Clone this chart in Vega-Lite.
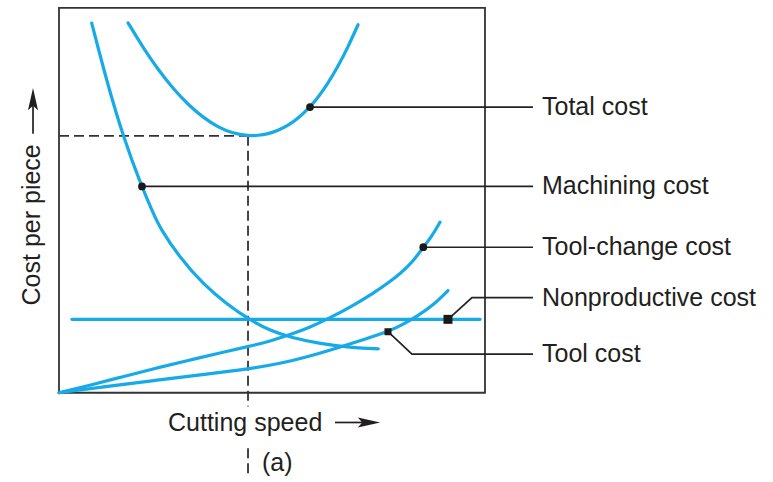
{
  "$schema": "https://vega.github.io/schema/vega-lite/v6.json",
  "width": 773,
  "height": 482,
  "autosize": {"type": "fit", "contains": "padding"},
  "padding": 0,
  "background": "white",
  "config": {"view": {"stroke": null}},
  "datasets": {
    "frame": [{"x": 0, "x2": 100, "y": 0, "y2": 100}],
    "curves": [
      {"s": "total", "x": 16.2, "y": 96.13},
      {"s": "total", "x": 19.72, "y": 89.72},
      {"s": "total", "x": 23.24, "y": 84.02},
      {"s": "total", "x": 26.76, "y": 79.07},
      {"s": "total", "x": 30.28, "y": 74.9},
      {"s": "total", "x": 33.8, "y": 71.55},
      {"s": "total", "x": 37.32, "y": 69.02},
      {"s": "total", "x": 40.85, "y": 67.37},
      {"s": "total", "x": 44.37, "y": 66.75},
      {"s": "total", "x": 46.71, "y": 66.86},
      {"s": "total", "x": 49.06, "y": 67.27},
      {"s": "total", "x": 51.41, "y": 68.12},
      {"s": "total", "x": 53.76, "y": 69.43},
      {"s": "total", "x": 56.1, "y": 71.29},
      {"s": "total", "x": 58.92, "y": 74.23},
      {"s": "total", "x": 60.8, "y": 76.73},
      {"s": "total", "x": 63.15, "y": 80.41},
      {"s": "total", "x": 65.49, "y": 84.77},
      {"s": "total", "x": 67.84, "y": 89.82},
      {"s": "total", "x": 70.19, "y": 95.62},
      {"s": "machining", "x": 7.68, "y": 96.06},
      {"s": "machining", "x": 11.2, "y": 81.01},
      {"s": "machining", "x": 15.09, "y": 66.42},
      {"s": "machining", "x": 19.41, "y": 53.53},
      {"s": "machining", "x": 22.14, "y": 46.65},
      {"s": "machining", "x": 23.71, "y": 42.78},
      {"s": "machining", "x": 28.4, "y": 35.05},
      {"s": "machining", "x": 33.87, "y": 28.17},
      {"s": "machining", "x": 39.37, "y": 23.02},
      {"s": "machining", "x": 44.44, "y": 19.15},
      {"s": "machining", "x": 49.53, "y": 16.16},
      {"s": "machining", "x": 54.23, "y": 14.43},
      {"s": "machining", "x": 61.27, "y": 12.71},
      {"s": "machining", "x": 69.08, "y": 11.68},
      {"s": "machining", "x": 74.95, "y": 11.42},
      {"s": "nonproductive", "x": 3.05, "y": 19.07},
      {"s": "nonproductive", "x": 98.83, "y": 19.07},
      {"s": "toolchange", "x": 0.0, "y": 0.0},
      {"s": "toolchange", "x": 6.81, "y": 1.8},
      {"s": "toolchange", "x": 14.79, "y": 4.12},
      {"s": "toolchange", "x": 22.54, "y": 6.31},
      {"s": "toolchange", "x": 30.28, "y": 8.38},
      {"s": "toolchange", "x": 38.26, "y": 10.44},
      {"s": "toolchange", "x": 44.84, "y": 12.11},
      {"s": "toolchange", "x": 49.53, "y": 13.4},
      {"s": "toolchange", "x": 54.23, "y": 15.08},
      {"s": "toolchange", "x": 58.92, "y": 17.01},
      {"s": "toolchange", "x": 62.91, "y": 19.07},
      {"s": "toolchange", "x": 68.31, "y": 22.16},
      {"s": "toolchange", "x": 73.71, "y": 25.77},
      {"s": "toolchange", "x": 77.7, "y": 28.87},
      {"s": "toolchange", "x": 80.05, "y": 30.93},
      {"s": "toolchange", "x": 82.86, "y": 33.76},
      {"s": "toolchange", "x": 85.52, "y": 37.81},
      {"s": "toolchange", "x": 87.56, "y": 40.72},
      {"s": "toolchange", "x": 89.44, "y": 44.33},
      {"s": "tool", "x": 0.0, "y": 0.0},
      {"s": "tool", "x": 10.8, "y": 1.55},
      {"s": "tool", "x": 22.54, "y": 3.22},
      {"s": "tool", "x": 34.27, "y": 4.77},
      {"s": "tool", "x": 45.31, "y": 6.31},
      {"s": "tool", "x": 51.88, "y": 7.6},
      {"s": "tool", "x": 58.22, "y": 9.28},
      {"s": "tool", "x": 65.96, "y": 11.86},
      {"s": "tool", "x": 71.83, "y": 13.92},
      {"s": "tool", "x": 77.23, "y": 15.85},
      {"s": "tool", "x": 81.22, "y": 18.04},
      {"s": "tool", "x": 84.04, "y": 19.85},
      {"s": "tool", "x": 87.79, "y": 22.68},
      {"s": "tool", "x": 91.31, "y": 26.55}
    ],
    "dashes": [
      {"s": "h", "o": 1, "x": 0, "y": 66.75},
      {"s": "h", "o": 2, "x": 44.37, "y": 66.75},
      {"s": "v1", "o": 1, "x": 44.37, "y": 66.75},
      {"s": "v1", "o": 2, "x": 44.37, "y": -3.61},
      {"s": "v2", "o": 1, "x": 44.37, "y": -14.43},
      {"s": "v2", "o": 2, "x": 44.37, "y": -22.16}
    ],
    "leaders": [
      {"s": "total", "o": 1, "x": 58.92, "y": 74.23},
      {"s": "total", "o": 2, "x": 111.27, "y": 74.23},
      {"s": "machining", "o": 1, "x": 19.48, "y": 53.61},
      {"s": "machining", "o": 2, "x": 111.27, "y": 53.61},
      {"s": "toolchange", "o": 1, "x": 85.52, "y": 37.81},
      {"s": "toolchange", "o": 2, "x": 111.27, "y": 37.81},
      {"s": "nonproductive", "o": 1, "x": 91.31, "y": 19.07},
      {"s": "nonproductive", "o": 2, "x": 96.95, "y": 24.74},
      {"s": "nonproductive", "o": 3, "x": 111.27, "y": 24.74},
      {"s": "tool", "o": 1, "x": 77.23, "y": 15.85},
      {"s": "tool", "o": 2, "x": 82.86, "y": 10.05},
      {"s": "tool", "o": 3, "x": 111.27, "y": 10.05}
    ],
    "arrows": [
      {"s": "x", "o": 1, "x": 64.79, "y": -7.73},
      {"s": "x", "o": 2, "x": 71.36, "y": -7.73},
      {"s": "y", "o": 1, "x": -6.1, "y": 67.27},
      {"s": "y", "o": 2, "x": -6.1, "y": 75.5}
    ],
    "heads": [
      {"dir": "right", "x": 72.77, "y": -7.73},
      {"dir": "up", "x": -6.1, "y": 76.29}
    ],
    "dots": [
      {"x": 58.92, "y": 74.23},
      {"x": 19.48, "y": 53.61},
      {"x": 85.52, "y": 37.81}
    ],
    "squares": [
      {"x": 91.31, "y": 19.07, "big": "yes"},
      {"x": 77.23, "y": 15.85, "big": "no"}
    ],
    "labels": [
      {"t": "Total cost", "x": 113.38, "y": 74.23},
      {"t": "Machining cost", "x": 113.38, "y": 53.61},
      {"t": "Tool-change cost", "x": 113.38, "y": 37.81},
      {"t": "Nonproductive cost", "x": 113.38, "y": 24.74},
      {"t": "Tool cost", "x": 113.38, "y": 10.05},
      {"t": "Cutting speed", "x": 25.59, "y": -7.99},
      {"t": "(a)", "x": 47.65, "y": -18.3}
    ],
    "ytitle": [{"t": "Cost per piece", "x": -6.34, "y": 22.68}]
  },
  "layer": [
    {
      "data": {"name": "frame"},
      "mark": {"type": "rect", "fillOpacity": 0, "stroke": "#333333", "strokeWidth": 1.8},
      "encoding": {
        "x": {"field": "x", "type": "quantitative", "scale": {"domain": [-13.85, 167.61], "nice": false, "zero": false}, "axis": null},
        "x2": {"field": "x2"},
        "y": {"field": "y", "type": "quantitative", "scale": {"domain": [-22.16, 102.06], "nice": false, "zero": false}, "axis": null},
        "y2": {"field": "y2"}
      }
    },
    {
      "data": {"name": "dashes"},
      "mark": {"type": "line", "color": "#333333", "strokeWidth": 1.8, "strokeDash": [10, 5]},
      "encoding": {
        "x": {"field": "x", "type": "quantitative", "scale": {"domain": [-13.85, 167.61], "nice": false, "zero": false}, "axis": null},
        "y": {"field": "y", "type": "quantitative", "scale": {"domain": [-22.16, 102.06], "nice": false, "zero": false}, "axis": null},
        "detail": {"field": "s"},
        "order": {"field": "o"}
      }
    },
    {
      "data": {"name": "curves"},
      "mark": {"type": "line", "color": "#16AAE6", "strokeWidth": 3.2, "interpolate": "basis", "strokeCap": "round"},
      "encoding": {
        "x": {"field": "x", "type": "quantitative", "scale": {"domain": [-13.85, 167.61], "nice": false, "zero": false}, "axis": null},
        "y": {"field": "y", "type": "quantitative", "scale": {"domain": [-22.16, 102.06], "nice": false, "zero": false}, "axis": null},
        "detail": {"field": "s"}
      }
    },
    {
      "data": {"name": "leaders"},
      "mark": {"type": "line", "color": "#222222", "strokeWidth": 1.7},
      "encoding": {
        "x": {"field": "x", "type": "quantitative", "scale": {"domain": [-13.85, 167.61], "nice": false, "zero": false}, "axis": null},
        "y": {"field": "y", "type": "quantitative", "scale": {"domain": [-22.16, 102.06], "nice": false, "zero": false}, "axis": null},
        "detail": {"field": "s"},
        "order": {"field": "o"}
      }
    },
    {
      "data": {"name": "arrows"},
      "mark": {"type": "line", "color": "#231f20", "strokeWidth": 1.7},
      "encoding": {
        "x": {"field": "x", "type": "quantitative", "scale": {"domain": [-13.85, 167.61], "nice": false, "zero": false}, "axis": null},
        "y": {"field": "y", "type": "quantitative", "scale": {"domain": [-22.16, 102.06], "nice": false, "zero": false}, "axis": null},
        "detail": {"field": "s"},
        "order": {"field": "o"}
      }
    },
    {
      "data": {"name": "heads"},
      "mark": {"type": "point", "filled": true, "color": "#231f20", "opacity": 1, "size": 500},
      "encoding": {
        "x": {"field": "x", "type": "quantitative", "scale": {"domain": [-13.85, 167.61], "nice": false, "zero": false}, "axis": null},
        "y": {"field": "y", "type": "quantitative", "scale": {"domain": [-22.16, 102.06], "nice": false, "zero": false}, "axis": null},
        "shape": {"field": "dir", "type": "nominal", "scale": {"domain": ["right", "up"], "range": ["M1,0L-1,-0.45L-0.6,0L-1,0.45Z", "M0,-1L-0.45,1L0,0.6L0.45,1Z"]}, "legend": null}
      }
    },
    {
      "data": {"name": "dots"},
      "mark": {"type": "point", "shape": "circle", "filled": true, "color": "#1a1a1a", "size": 60, "opacity": 1},
      "encoding": {
        "x": {"field": "x", "type": "quantitative", "scale": {"domain": [-13.85, 167.61], "nice": false, "zero": false}, "axis": null},
        "y": {"field": "y", "type": "quantitative", "scale": {"domain": [-22.16, 102.06], "nice": false, "zero": false}, "axis": null}
      }
    },
    {
      "data": {"name": "squares"},
      "mark": {"type": "point", "shape": "square", "filled": true, "color": "#1a1a1a", "opacity": 1},
      "encoding": {
        "x": {"field": "x", "type": "quantitative", "scale": {"domain": [-13.85, 167.61], "nice": false, "zero": false}, "axis": null},
        "y": {"field": "y", "type": "quantitative", "scale": {"domain": [-22.16, 102.06], "nice": false, "zero": false}, "axis": null},
        "size": {"field": "big", "type": "nominal", "scale": {"domain": ["yes", "no"], "range": [81, 49]}, "legend": null}
      }
    },
    {
      "data": {"name": "labels"},
      "mark": {"type": "text", "align": "left", "baseline": "middle", "font": "Liberation Sans", "fontSize": 25, "color": "#231f20"},
      "encoding": {
        "x": {"field": "x", "type": "quantitative", "scale": {"domain": [-13.85, 167.61], "nice": false, "zero": false}, "axis": null},
        "y": {"field": "y", "type": "quantitative", "scale": {"domain": [-22.16, 102.06], "nice": false, "zero": false}, "axis": null},
        "text": {"field": "t"}
      }
    },
    {
      "data": {"name": "ytitle"},
      "mark": {"type": "text", "align": "left", "baseline": "middle", "angle": 270, "font": "Liberation Sans", "fontSize": 25, "color": "#231f20"},
      "encoding": {
        "x": {"field": "x", "type": "quantitative", "scale": {"domain": [-13.85, 167.61], "nice": false, "zero": false}, "axis": null},
        "y": {"field": "y", "type": "quantitative", "scale": {"domain": [-22.16, 102.06], "nice": false, "zero": false}, "axis": null},
        "text": {"field": "t"}
      }
    }
  ]
}
